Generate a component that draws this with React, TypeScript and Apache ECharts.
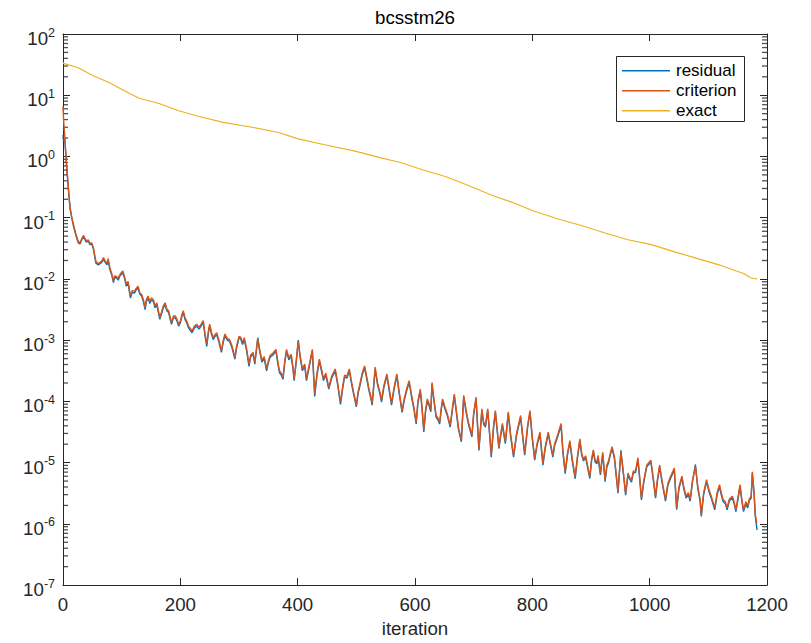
import React, { useEffect, useRef } from "react";
import * as echarts from "echarts";

// ---------- data (log10 of the plotted values) ----------
const ITERS = [
  0, 1, 3, 5, 6, 8, 10, 12, 15, 18, 22, 26, 29, 32, 35, 38, 40, 43, 46, 49,
  52, 56, 60, 63, 66, 69, 72, 75, 77, 80, 83, 86, 88, 91, 94, 97, 100, 102, 105, 108,
  111, 113, 115, 118, 122, 125, 128, 131, 134, 137, 140, 142, 145, 148, 151, 154, 157, 160, 162, 165,
  168, 171, 174, 177, 180, 183, 185, 188, 191, 194, 197, 200, 203, 205, 208, 211, 214, 217, 220, 224,
  228, 232, 236, 239, 242, 245, 248, 250, 253, 256, 259, 262, 266, 270, 273, 276, 280, 284, 288, 293,
  296, 300, 303, 306, 309, 313, 317, 320, 324, 327, 332, 335, 339, 343, 347, 350, 353, 358, 363, 366,
  369, 372, 375, 378, 381, 385, 389, 392, 394, 398, 401, 404, 408, 412, 415, 420, 425, 429, 433, 437,
  441, 444, 448, 453, 458, 464, 468, 473, 477, 480, 484, 488, 492, 496, 500, 503, 506, 510, 514, 518,
  521, 524, 527, 530, 532, 536, 540, 543, 547, 552, 556, 560, 564, 569, 573, 578, 582, 586, 590, 594,
  598, 602, 605, 609, 612, 615, 618, 621, 624, 627, 629, 632, 636, 639, 642, 645, 647, 651, 655, 660,
  664, 667, 671, 674, 679, 683, 687, 691, 697, 700, 704, 709, 714, 717, 720, 724, 727, 730, 734, 737,
  740, 743, 746, 749, 754, 759, 763, 768, 773, 780, 784, 787, 792, 796, 800, 804, 808, 813, 818, 822,
  827, 831, 835, 838, 841, 845, 849, 852, 856, 860, 864, 868, 873, 877, 881, 884, 887, 891, 894, 898,
  901, 904, 907, 910, 912, 916, 920, 924, 927, 930, 933, 936, 940, 943, 946, 951, 955, 959, 963, 966,
  969, 972, 976, 980, 983, 986, 990, 995, 1002, 1006, 1010, 1013, 1017, 1021, 1027, 1031, 1035, 1042, 1046, 1050,
  1055, 1058, 1062, 1066, 1069, 1073, 1078, 1082, 1086, 1088, 1092, 1097, 1101, 1105, 1111, 1115, 1119, 1122, 1125, 1129,
  1132, 1136, 1141, 1144, 1147, 1151, 1154, 1157, 1160, 1164, 1167, 1170, 1173, 1175, 1178, 1180, 1182, 1183,
];

const RESIDUAL_LOG10 = [
  0.35, 0.25, 0.28, 0.0, -0.15, -0.38, -0.63, -0.85, -1.01, -1.14, -1.29, -1.41, -1.43, -1.36, -1.31, -1.37, -1.40, -1.38, -1.44, -1.43,
  -1.52, -1.74, -1.77, -1.75, -1.73, -1.68, -1.73, -1.77, -1.70, -1.85, -1.93, -2.06, -1.98, -1.98, -2.02, -1.95, -1.92, -1.90, -1.99, -2.12,
  -2.06, -2.20, -2.31, -2.22, -2.23, -2.17, -2.15, -2.25, -2.28, -2.37, -2.50, -2.37, -2.31, -2.40, -2.34, -2.37, -2.47, -2.42, -2.52, -2.66,
  -2.57, -2.47, -2.42, -2.52, -2.55, -2.67, -2.74, -2.64, -2.63, -2.68, -2.77, -2.72, -2.60, -2.55, -2.66, -2.72, -2.80, -2.84, -2.88, -2.80,
  -2.77, -2.82, -2.76, -2.71, -2.92, -3.10, -2.87, -2.77, -2.90, -2.99, -2.94, -2.91, -3.04, -3.20, -3.04, -2.93, -3.00, -3.02, -3.12, -3.31,
  -3.12, -2.96, -2.98, -3.07, -2.99, -3.17, -3.43, -3.27, -3.23, -3.39, -2.96, -3.17, -3.36, -3.30, -3.50, -3.37, -3.28, -3.24, -3.18, -3.37,
  -3.53, -3.57, -3.64, -3.37, -3.18, -3.32, -3.26, -3.47, -3.66, -3.32, -3.00, -3.27, -3.50, -3.42, -3.66, -3.42, -3.18, -3.92, -3.57, -3.34,
  -3.52, -3.66, -3.57, -3.80, -3.62, -3.50, -3.72, -4.05, -3.77, -3.60, -3.62, -3.50, -3.72, -3.91, -4.09, -3.87, -3.75, -3.57, -3.45, -3.64,
  -3.80, -3.92, -4.06, -3.72, -3.47, -3.72, -3.87, -4.01, -3.77, -3.58, -3.82, -4.06, -3.82, -3.58, -3.87, -4.18, -3.97, -3.82, -3.69, -3.92,
  -4.12, -4.37, -4.02, -3.83, -4.12, -4.50, -4.17, -3.99, -4.07, -4.17, -3.72, -3.97, -4.26, -4.30, -4.37, -4.12, -3.99, -4.12, -4.23, -4.42,
  -4.12, -3.91, -4.22, -4.45, -4.66, -3.93, -4.17, -4.37, -4.58, -4.22, -3.96, -4.80, -4.15, -4.37, -4.42, -4.15, -4.52, -4.91, -4.42, -4.18,
  -4.47, -4.77, -4.57, -4.39, -4.69, -4.20, -4.57, -4.91, -4.56, -4.26, -4.62, -4.88, -4.42, -4.18, -4.62, -4.96, -4.72, -4.53, -5.04, -4.77,
  -4.53, -4.72, -4.91, -4.72, -4.64, -4.52, -4.39, -4.82, -5.18, -4.87, -4.67, -4.97, -5.26, -4.92, -4.64, -4.87, -4.97, -4.92, -5.07, -5.26,
  -4.97, -4.82, -4.99, -5.02, -4.91, -5.20, -4.86, -5.31, -5.07, -5.00, -4.87, -4.77, -4.94, -5.22, -5.50, -4.80, -5.17, -5.53, -5.20, -5.27,
  -5.32, -5.17, -5.16, -4.95, -5.27, -5.61, -5.32, -5.07, -4.99, -5.27, -5.58, -5.32, -5.07, -5.32, -5.63, -5.37, -5.27, -5.12, -5.77, -5.42,
  -5.25, -5.42, -5.58, -5.52, -5.63, -5.32, -5.03, -5.42, -5.63, -5.88, -5.52, -5.31, -5.47, -5.58, -5.77, -5.52, -5.39, -5.52, -5.63, -5.67,
  -5.77, -5.62, -5.58, -5.67, -5.80, -5.57, -5.39, -5.62, -5.80, -5.67, -5.74, -5.62, -5.58, -5.18, -5.52, -5.87, -6.02, -6.10,
];

const CRITERION_LOG10 = [
  0.82, 0.60, 0.33, 0.02, -0.13, -0.36, -0.61, -0.83, -0.99, -1.12, -1.27, -1.39, -1.41, -1.34, -1.29, -1.35, -1.38, -1.36, -1.42, -1.41,
  -1.50, -1.71, -1.75, -1.73, -1.71, -1.65, -1.71, -1.74, -1.67, -1.82, -1.91, -2.03, -1.95, -1.96, -1.99, -1.93, -1.89, -1.87, -1.97, -2.09,
  -2.04, -2.17, -2.28, -2.19, -2.20, -2.15, -2.12, -2.23, -2.25, -2.34, -2.47, -2.34, -2.28, -2.37, -2.31, -2.34, -2.44, -2.39, -2.49, -2.63,
  -2.54, -2.44, -2.39, -2.49, -2.52, -2.64, -2.71, -2.61, -2.60, -2.65, -2.74, -2.69, -2.57, -2.52, -2.63, -2.69, -2.77, -2.81, -2.85, -2.77,
  -2.74, -2.79, -2.73, -2.68, -2.89, -3.06, -2.84, -2.74, -2.87, -2.96, -2.91, -2.88, -3.01, -3.17, -3.01, -2.90, -2.97, -2.99, -3.09, -3.28,
  -3.09, -2.94, -2.95, -3.04, -2.96, -3.14, -3.39, -3.24, -3.20, -3.36, -2.98, -3.14, -3.33, -3.27, -3.47, -3.34, -3.25, -3.21, -3.15, -3.34,
  -3.50, -3.54, -3.61, -3.34, -3.15, -3.29, -3.23, -3.44, -3.63, -3.29, -3.02, -3.24, -3.47, -3.39, -3.63, -3.39, -3.15, -3.87, -3.54, -3.31,
  -3.49, -3.63, -3.54, -3.77, -3.59, -3.47, -3.69, -4.01, -3.74, -3.57, -3.59, -3.47, -3.69, -3.88, -4.06, -3.84, -3.72, -3.54, -3.42, -3.61,
  -3.77, -3.89, -4.03, -3.69, -3.44, -3.69, -3.84, -3.98, -3.74, -3.55, -3.79, -4.03, -3.79, -3.55, -3.84, -4.15, -3.94, -3.79, -3.66, -3.89,
  -4.09, -4.34, -3.99, -3.80, -4.09, -4.47, -4.14, -3.96, -4.04, -4.14, -3.69, -3.94, -4.23, -4.27, -4.34, -4.09, -3.96, -4.09, -4.20, -4.39,
  -4.09, -3.88, -4.19, -4.42, -4.63, -3.90, -4.14, -4.34, -4.55, -4.19, -3.93, -4.77, -4.12, -4.34, -4.39, -4.12, -4.49, -4.88, -4.39, -4.15,
  -4.44, -4.74, -4.54, -4.36, -4.66, -4.17, -4.54, -4.88, -4.53, -4.23, -4.59, -4.85, -4.39, -4.15, -4.59, -4.93, -4.69, -4.50, -5.01, -4.74,
  -4.50, -4.69, -4.88, -4.69, -4.61, -4.49, -4.36, -4.79, -5.15, -4.84, -4.64, -4.94, -5.23, -4.89, -4.61, -4.84, -4.94, -4.89, -5.04, -5.23,
  -4.94, -4.79, -4.96, -4.99, -4.88, -5.17, -4.83, -5.28, -5.04, -4.97, -4.84, -4.74, -4.91, -5.19, -5.47, -4.83, -5.14, -5.50, -5.17, -5.24,
  -5.29, -5.14, -5.13, -4.92, -5.24, -5.58, -5.29, -5.04, -4.96, -5.24, -5.55, -5.29, -5.04, -5.29, -5.60, -5.34, -5.24, -5.09, -5.74, -5.39,
  -5.22, -5.39, -5.55, -5.49, -5.60, -5.29, -5.06, -5.39, -5.60, -5.85, -5.49, -5.28, -5.44, -5.55, -5.74, -5.49, -5.36, -5.49, -5.60, -5.64,
  -5.74, -5.59, -5.55, -5.64, -5.77, -5.54, -5.36, -5.59, -5.77, -5.64, -5.71, -5.59, -5.55, -5.15, -5.49, -5.84, -5.96, -5.98,
];

const EXACT_ITERS = [
  0, 1, 26, 49, 80, 111, 130, 165, 196, 227, 273, 320, 366, 401, 444, 498, 537, 575, 614, 653,
  692, 730, 769, 802, 847, 885, 924, 963, 1003, 1040, 1079, 1118, 1160, 1172, 1183,
];
const EXACT_LOG10 = [
  1.54, 1.52, 1.45, 1.33, 1.20, 1.04, 0.95, 0.86, 0.75, 0.665, 0.557, 0.482, 0.395, 0.287, 0.195, 0.087, -0.011, -0.10, -0.22, -0.33,
  -0.48, -0.63, -0.76, -0.89, -1.03, -1.13, -1.25, -1.36, -1.44, -1.55, -1.66, -1.77, -1.91, -1.98, -2.0,
];

const SERIES_NAMES = ["residual", "criterion", "exact"];
const X_MIN = 0;
const X_MAX = 1200;
const X_STEP = 200;
const Y_MIN_EXP = -7;
const Y_MAX_EXP = 2;
const MINOR_MULTIPLIERS = [2, 3, 4, 5, 6, 7, 8, 9];

const FONT = "'Liberation Sans', Arial, Helvetica, sans-serif";
const INK = "#262626";
const COLORS = ["#0072BD", "#D95319", "#EDB120"];

export default function App() {
  const ref = useRef<HTMLDivElement>(null);

  useEffect(() => {
    if (!ref.current) return;
    const chart = echarts.init(ref.current, null, { renderer: "svg" });

    const pairs = (xs: number[], ls: number[]) => xs.map((x, i) => [x, Math.pow(10, ls[i])]);

    const minorVals: number[] = [];
    for (let e = Y_MIN_EXP; e < Y_MAX_EXP; e++) {
      for (const m of MINOR_MULTIPLIERS) minorVals.push(m * Math.pow(10, e));
    }

    const tickLabel = { fontFamily: FONT, fontSize: 18.7, color: INK };
    const axisLine = { show: true, onZero: false, lineStyle: { color: INK, width: 1 } };
    const axisTick = { show: true, inside: true, length: 7, lineStyle: { color: INK, width: 1 } };
    const yMin = Math.pow(10, Y_MIN_EXP);
    const yMax = Math.pow(10, Y_MAX_EXP);

    // minor log ticks: short dashes placed through the axes' own scales
    const minorTickSeries = (x: number, offset: number) => ({
      type: "scatter",
      clip: false,
      symbol: "rect",
      symbolSize: [5, 1.3],
      symbolOffset: [offset, 0],
      itemStyle: { color: INK },
      data: minorVals.map((v) => [x, v]),
    });

    // legend box (MATLAB style), drawn as graphics
    const LEG_X = 616.5;
    const LEG_Y = 56.5;
    const LEG_W = 128;
    const LEG_H = 65;
    const legendChildren: any[] = [
      {
        type: "rect",
        shape: { x: LEG_X, y: LEG_Y, width: LEG_W, height: LEG_H },
        style: { fill: "#ffffff", stroke: INK, lineWidth: 1 },
      },
    ];
    SERIES_NAMES.forEach((name, i) => {
      const cy = 70.7 + i * 20;
      legendChildren.push({
        type: "line",
        shape: { x1: 622, y1: cy, x2: 670, y2: cy },
        style: { stroke: COLORS[i], lineWidth: 1.6 },
      });
      legendChildren.push({
        type: "text",
        x: 676,
        y: cy,
        style: {
          text: name,
          font: `17px ${FONT}`,
          fill: "#000000",
          verticalAlign: "middle",
          align: "left",
        },
      });
    });

    const option: any = {
      animation: false,
      backgroundColor: "#ffffff",
      grid: { left: 63, right: 44, top: 34, bottom: 54 },
      graphic: [{ type: "group", z: 100, silent: true, children: legendChildren }],
      xAxis: [
        {
          type: "value",
          min: X_MIN,
          max: X_MAX,
          interval: X_STEP,
          position: "bottom",
          name: "iteration",
          nameLocation: "middle",
          nameGap: 30,
          nameTextStyle: { fontFamily: FONT, fontSize: 18.7, color: INK },
          axisLine,
          axisTick,
          axisLabel: { ...tickLabel, margin: 10, formatter: (v: number) => String(v) },
          splitLine: { show: false },
        },
        {
          type: "value",
          min: X_MIN,
          max: X_MAX,
          interval: X_STEP,
          position: "top",
          name: "bcsstm26",
          nameLocation: "middle",
          nameGap: 7,
          nameTextStyle: { fontFamily: FONT, fontSize: 18.7, color: "#000000" },
          axisLine,
          axisTick,
          axisLabel: { show: false },
          splitLine: { show: false },
        },
      ],
      yAxis: [
        {
          type: "log",
          logBase: 10,
          min: yMin,
          max: yMax,
          splitNumber: 9,
          position: "left",
          axisLine,
          axisTick,
          axisLabel: {
            margin: 8,
            padding: [6, 0, 0, 0],
            formatter: (v: number) => `{b|10}{s|${Math.round(Math.log10(v))}}`,
            rich: {
              b: { fontFamily: FONT, fontSize: 18.7, color: INK, lineHeight: 22, verticalAlign: "bottom" },
              s: { fontFamily: FONT, fontSize: 12.5, color: INK, lineHeight: 12, verticalAlign: "top" },
            },
          },
          splitLine: { show: false },
        },
        {
          type: "log",
          logBase: 10,
          min: yMin,
          max: yMax,
          splitNumber: 9,
          position: "right",
          axisLine,
          axisTick,
          axisLabel: { show: false },
          splitLine: { show: false },
        },
      ],
      series: [
        {
          name: "residual",
          type: "line",
          data: pairs(ITERS, RESIDUAL_LOG10),
          symbol: "none",
          silent: true,
          color: COLORS[0],
          lineStyle: { width: 1.4, color: COLORS[0] },
          z: 2,
        },
        {
          name: "criterion",
          type: "line",
          data: pairs(ITERS, CRITERION_LOG10),
          symbol: "none",
          silent: true,
          color: COLORS[1],
          lineStyle: { width: 1.4, color: COLORS[1] },
          z: 3,
        },
        {
          name: "exact",
          type: "line",
          data: pairs(EXACT_ITERS, EXACT_LOG10),
          symbol: "none",
          silent: true,
          color: COLORS[2],
          lineStyle: { width: 1.1, color: COLORS[2] },
          z: 4,
        },
        minorTickSeries(X_MIN, 2.5),
        minorTickSeries(X_MAX, -2.5),
      ],
    };

    chart.setOption(option);
    return () => chart.dispose();
  }, []);

  return (
    <div
      ref={ref}
      style={{ position: "fixed", left: 0, top: 0, width: 811, height: 643, background: "#ffffff" }}
    />
  );
}
